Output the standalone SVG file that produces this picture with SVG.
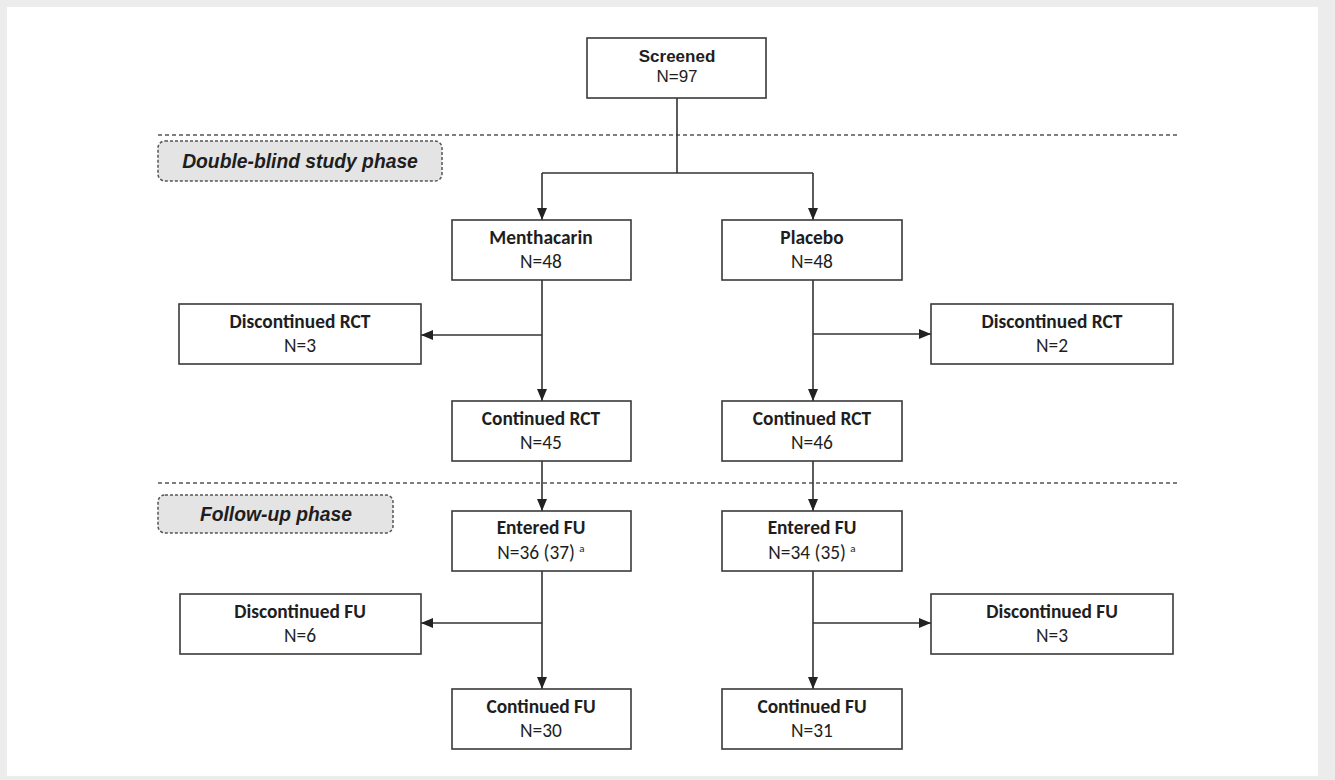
<svg xmlns="http://www.w3.org/2000/svg" width="1335" height="780" viewBox="0 0 1335 780">
<style>
.box{fill:#ffffff;stroke:#3a3a3a;stroke-width:1.6}
.t1{font-family:Carlito,Lato,"Liberation Sans",sans-serif;font-size:19.4px;font-weight:bold;fill:#1e1e1e;text-anchor:middle}
.t2{font-family:Carlito,Lato,"Liberation Sans",sans-serif;font-size:19.4px;fill:#1e1e1e;text-anchor:middle}
.a1{font-family:"Liberation Sans",Arial,sans-serif;font-size:17px;font-weight:bold;fill:#1e1e1e;text-anchor:middle}
.a2{font-family:"Liberation Sans",Arial,sans-serif;font-size:17px;fill:#1e1e1e;text-anchor:middle}
.phase{fill:#e4e4e4;stroke:#555;stroke-width:1.5;stroke-dasharray:3 2}
.pt{font-family:"Liberation Sans",Arial,sans-serif;font-size:19.3px;font-weight:bold;font-style:italic;fill:#1e1e1e;text-anchor:middle}
.sep{stroke:#555;stroke-width:1.5;stroke-dasharray:4 3;fill:none}
.ln{stroke:#333;stroke-width:1.6;fill:none}
.sup{font-size:11px}
</style>
<defs>
<marker id="arr" markerUnits="userSpaceOnUse" markerWidth="12" markerHeight="10" refX="12" refY="5" orient="auto">
<path d="M0,0 L12,5 L0,10 z" fill="#222"/>
</marker>
</defs>
<rect x="0" y="0" width="1335" height="780" fill="#ececec"/>
<rect x="7" y="7" width="1311" height="769" fill="#ffffff"/>

<g id="separators">
<line class="sep" x1="158" y1="135" x2="1178" y2="135"/>
<line class="sep" x1="158" y1="483" x2="1178" y2="483"/>
</g>

<g id="phase-double-blind">
<rect class="phase" x="158" y="141" width="284" height="40" rx="7"/>
<text class="pt" x="300" y="168">Double-blind study phase</text>
</g>
<g id="phase-follow-up">
<rect class="phase" x="158" y="495" width="235" height="38" rx="7"/>
<text class="pt" x="276" y="521">Follow-up phase</text>
</g>

<g id="connectors">
<polyline class="ln" points="677,98 677,173"/>
<polyline class="ln" points="542,173 813,173"/>
<line class="ln" x1="542" y1="173" x2="542" y2="220" marker-end="url(#arr)"/>
<line class="ln" x1="813" y1="173" x2="813" y2="220" marker-end="url(#arr)"/>
<line class="ln" x1="542" y1="280" x2="542" y2="401" marker-end="url(#arr)"/>
<line class="ln" x1="542" y1="335" x2="421" y2="335" marker-end="url(#arr)"/>
<line class="ln" x1="813" y1="280" x2="813" y2="401" marker-end="url(#arr)"/>
<line class="ln" x1="813" y1="334" x2="931" y2="334" marker-end="url(#arr)"/>
<line class="ln" x1="542" y1="461" x2="542" y2="511" marker-end="url(#arr)"/>
<line class="ln" x1="813" y1="461" x2="813" y2="511" marker-end="url(#arr)"/>
<line class="ln" x1="542" y1="571" x2="542" y2="689" marker-end="url(#arr)"/>
<line class="ln" x1="542" y1="623" x2="421" y2="623" marker-end="url(#arr)"/>
<line class="ln" x1="813" y1="571" x2="813" y2="689" marker-end="url(#arr)"/>
<line class="ln" x1="813" y1="623" x2="931" y2="623" marker-end="url(#arr)"/>
</g>

<g id="screened">
<rect class="box" x="587" y="38" width="179" height="60"/>
<text class="a1" x="677" y="62">Screened</text>
<text class="a2" x="677" y="82">N=97</text>
</g>

<g id="menthacarin">
<rect class="box" x="452" y="220" width="179" height="60"/>
<text class="t1" x="541" y="244">Menthacarin</text>
<text class="t2" x="541" y="268">N=48</text>
</g>
<g id="placebo">
<rect class="box" x="722" y="220" width="180" height="60"/>
<text class="t1" x="812" y="244">Placebo</text>
<text class="t2" x="812" y="268">N=48</text>
</g>

<g id="disc-rct-left">
<rect class="box" x="179" y="304" width="242" height="60"/>
<text class="t1" x="300" y="328">Discontinued RCT</text>
<text class="t2" x="300" y="352">N=3</text>
</g>
<g id="disc-rct-right">
<rect class="box" x="931" y="304" width="242" height="60"/>
<text class="t1" x="1052" y="328">Discontinued RCT</text>
<text class="t2" x="1052" y="352">N=2</text>
</g>

<g id="cont-rct-left">
<rect class="box" x="452" y="401" width="179" height="60"/>
<text class="t1" x="541" y="425">Continued RCT</text>
<text class="t2" x="541" y="449">N=45</text>
</g>
<g id="cont-rct-right">
<rect class="box" x="722" y="401" width="180" height="60"/>
<text class="t1" x="812" y="425">Continued RCT</text>
<text class="t2" x="812" y="449">N=46</text>
</g>

<g id="entered-fu-left">
<rect class="box" x="452" y="511" width="179" height="60"/>
<text class="t1" x="541" y="534">Entered FU</text>
<text class="t2" x="541" y="559">N=36 (37) <tspan class="sup" dy="-7">a</tspan></text>
</g>
<g id="entered-fu-right">
<rect class="box" x="722" y="511" width="180" height="60"/>
<text class="t1" x="812" y="534">Entered FU</text>
<text class="t2" x="812" y="559">N=34 (35) <tspan class="sup" dy="-7">a</tspan></text>
</g>

<g id="disc-fu-left">
<rect class="box" x="180" y="594" width="241" height="60"/>
<text class="t1" x="300" y="618">Discontinued FU</text>
<text class="t2" x="300" y="642">N=6</text>
</g>
<g id="disc-fu-right">
<rect class="box" x="931" y="594" width="242" height="60"/>
<text class="t1" x="1052" y="618">Discontinued FU</text>
<text class="t2" x="1052" y="642">N=3</text>
</g>

<g id="cont-fu-left">
<rect class="box" x="452" y="689" width="179" height="60"/>
<text class="t1" x="541" y="713">Continued FU</text>
<text class="t2" x="541" y="737">N=30</text>
</g>
<g id="cont-fu-right">
<rect class="box" x="722" y="689" width="180" height="60"/>
<text class="t1" x="812" y="713">Continued FU</text>
<text class="t2" x="812" y="737">N=31</text>
</g>
</svg>
